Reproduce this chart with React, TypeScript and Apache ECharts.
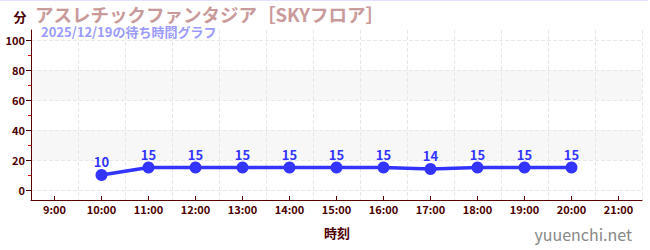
import React, { useEffect, useRef } from "react";
import * as echarts from "echarts";

const hours = ["9:00","10:00","11:00","12:00","13:00","14:00","15:00","16:00","17:00","18:00","19:00","20:00","21:00"];
const waits: (number | null)[] = [null, 10, 15, 15, 15, 15, 15, 15, 14, 15, 15, 15, null];
const titleText = "アスレチックファンタジア［SKYフロア］";
const subtitleText = "2025/12/19の待ち時間グラフ";
const yName = "分";
const xName = "時刻";
const siteText = "yuuenchi.net";

const FONT = "'Noto Sans CJK JP', 'Noto Sans', sans-serif";
const DARK = "#4d0000";
const AXIS = "#5a0000";
const BLUE = "#3434ff";

export default function App() {
  const ref = useRef<HTMLDivElement>(null);
  useEffect(() => {
    document.body.style.margin = "0";
    if (!ref.current) return;
    const chart = echarts.init(ref.current, undefined, { renderer: "svg" });
    chart.setOption({
      animation: false,
      textStyle: { fontFamily: FONT },
      grid: [
        { left: 31, right: 8, top: 40, bottom: 60 },
        { left: 31, right: 8, top: 30, bottom: 50 },
      ],
      xAxis: [
        {
          gridIndex: 0, type: "category", data: hours,
          axisLine: { show: false }, axisTick: { show: false }, axisLabel: { show: false }, splitLine: { show: false },
        },
        {
          gridIndex: 1, type: "category", data: hours,
          axisLine: { lineStyle: { color: AXIS, width: 1 } },
          axisTick: { show: true, alignWithLabel: true, inside: true, length: 4, lineStyle: { color: AXIS } },
          axisLabel: { color: DARK, fontWeight: "bold", fontSize: 11, margin: 3, fontFamily: FONT },
          splitLine: { show: true, interval: 0, lineStyle: { type: "dashed", color: "#e8e8e8" } },
        },
      ],
      yAxis: [
        {
          gridIndex: 0, type: "value", min: 0, max: 100, interval: 20,
          axisLine: { show: false },
          axisTick: { show: true, length: 5, lineStyle: { color: DARK } },
          minorTick: { show: true, splitNumber: 2, length: 3, lineStyle: { color: "#dd0000" } },
          axisLabel: { color: DARK, fontWeight: "bold", fontSize: 11, margin: 6, fontFamily: FONT },
          splitLine: { show: true, lineStyle: { type: "dashed", color: "#e8e8e8" } },
          splitArea: { show: true, areaStyle: { color: ["rgba(0,0,0,0)", "#f7f7f7"] } },
        },
        {
          gridIndex: 1, type: "value", min: 0, max: 1,
          axisLine: { show: true, lineStyle: { color: AXIS, width: 1 } },
          axisTick: { show: false }, axisLabel: { show: false }, splitLine: { show: false },
        },
      ],
      series: [
        {
          type: "line", xAxisIndex: 0, yAxisIndex: 0, data: waits,
          symbol: "circle", symbolSize: 12,
          lineStyle: { width: 3.5, color: BLUE },
          itemStyle: { color: BLUE },
          label: { show: true, position: "top", distance: 1, color: BLUE, fontWeight: "bold", fontSize: 13, fontFamily: FONT },
          z: 5,
        },
      ],
      graphic: [
        { type: "line", shape: { x1: 0, y1: 0.5, x2: 648, y2: 0.5 }, style: { stroke: "#e2e2ff", lineWidth: 1 } },
        { type: "text", x: 20, y: 16, style: { text: yName, fill: DARK, font: `bold 13px ${FONT}`, align: "center", verticalAlign: "middle" } },
        { type: "text", x: 35, y: 14, style: { text: titleText, fill: "#c99a9a", font: `bold 18.5px ${FONT}`, lineHeight: 19, align: "left", verticalAlign: "middle" } },
        { type: "text", x: 41, y: 31, style: { text: subtitleText, fill: "#9b9bff", font: `bold 13px ${FONT}`, lineHeight: 13, align: "left", verticalAlign: "middle" } },
        { type: "text", x: 337, y: 232, style: { text: xName, fill: DARK, font: `bold 13px ${FONT}`, align: "center", verticalAlign: "middle" } },
        { type: "text", x: 632, y: 234, style: { text: siteText, fill: "#888888", font: `16px ${FONT}`, align: "right", verticalAlign: "middle" } },
      ],
    });
    return () => chart.dispose();
  }, []);
  return <div ref={ref} style={{ width: 650, height: 250 }} />;
}
